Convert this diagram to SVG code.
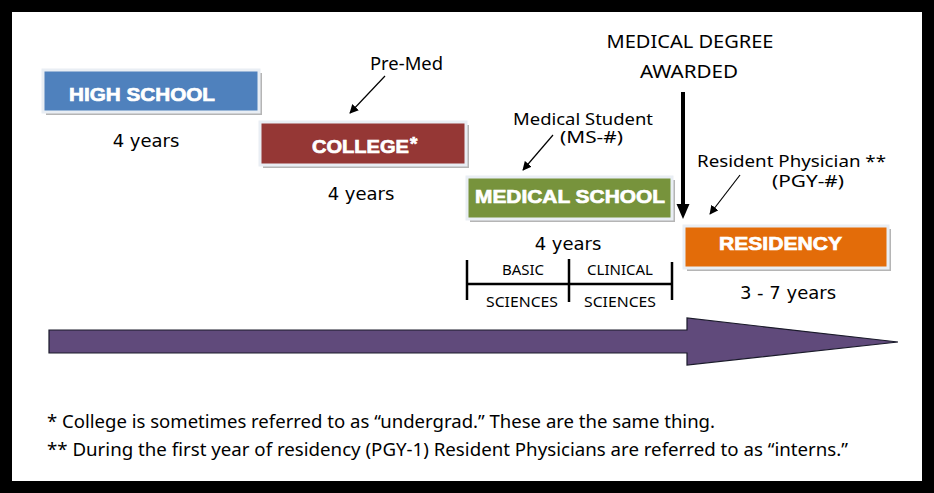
<svg xmlns="http://www.w3.org/2000/svg" width="934" height="493" viewBox="0 0 934 493">
<defs>
<marker id="ah" viewBox="0 0 10 10" refX="9" refY="5" markerWidth="9" markerHeight="9" markerUnits="userSpaceOnUse" orient="auto">
<path d="M0,0 L10,5 L0,10 z" fill="#000"/>
</marker>
<style>
.shadow{fill:#b5b5b5}
.box{stroke:#e9eef4;stroke-width:3}
.bt{font-family:"Liberation Sans",Arial,sans-serif;font-weight:bold;font-size:19px;fill:#fff;stroke:#fff;stroke-width:0.7}
.yr{font-family:"DejaVu Sans",sans-serif;font-size:18px;fill:#000}
.lb{font-family:"Noto Sans","Open Sans",sans-serif;font-size:18px;fill:#000}
.ls{font-family:"Noto Sans","Open Sans",sans-serif;font-size:17px;fill:#000}
.sm{font-family:"Noto Sans","Open Sans",sans-serif;font-size:15px;fill:#000}
.ptr{stroke:#000;stroke-width:1.2;fill:none}
</style>
</defs>
<rect x="0" y="0" width="934" height="493" fill="#000"/>
<rect x="12" y="12" width="910" height="469" fill="#fff"/>

<g id="high-school">
<rect class="shadow" x="46" y="73" width="216" height="42"/>
<rect class="box" x="43" y="70" width="216" height="42" fill="#4F81BD"/>
<text class="bt" x="69" y="101" textLength="146" lengthAdjust="spacingAndGlyphs">HIGH SCHOOL</text>
<text class="yr" x="146" y="147" text-anchor="middle">4 years</text>
</g>

<g id="college">
<rect class="shadow" x="263" y="125" width="206" height="43"/>
<rect class="box" x="260" y="122" width="206" height="43" fill="#953735"/>
<text class="bt" x="312" y="153" textLength="97" lengthAdjust="spacingAndGlyphs">COLLEGE</text>
<text class="bt" x="410" y="150" font-size="14">*</text>
<text class="yr" x="361" y="200" text-anchor="middle">4 years</text>
</g>

<g id="medical-school">
<rect class="shadow" x="470" y="180" width="205" height="42"/>
<rect class="box" x="467" y="177" width="205" height="42" fill="#77933C"/>
<text class="bt" x="475" y="203" textLength="190" lengthAdjust="spacingAndGlyphs">MEDICAL SCHOOL</text>
<text class="yr" x="568" y="250" text-anchor="middle">4 years</text>
<text class="sm" x="523" y="275" text-anchor="middle">BASIC</text>
<text class="sm" x="620" y="275" text-anchor="middle">CLINICAL</text>
<text class="sm" x="522" y="307" text-anchor="middle" textLength="72" lengthAdjust="spacingAndGlyphs">SCIENCES</text>
<text class="sm" x="620" y="307" text-anchor="middle" textLength="72" lengthAdjust="spacingAndGlyphs">SCIENCES</text>
</g>

<g id="residency">
<rect class="shadow" x="687" y="229" width="204" height="42"/>
<rect class="box" x="684" y="226" width="204" height="42" fill="#E36C09"/>
<text class="bt" x="719" y="250" textLength="123" lengthAdjust="spacingAndGlyphs">RESIDENCY</text>
<text class="yr" x="788" y="299" text-anchor="middle">3 - 7 years</text>
</g>

<g id="labels">
<text class="lb" x="370" y="70" textLength="73" lengthAdjust="spacingAndGlyphs">Pre-Med</text>
<text class="lb" x="690" y="48" text-anchor="middle" textLength="167" lengthAdjust="spacingAndGlyphs">MEDICAL DEGREE</text>
<text class="lb" x="689" y="78" text-anchor="middle" textLength="98" lengthAdjust="spacingAndGlyphs">AWARDED</text>
<text class="ls" x="513" y="125" textLength="140" lengthAdjust="spacingAndGlyphs">Medical Student</text>
<text class="ls" x="560" y="143" textLength="63" lengthAdjust="spacingAndGlyphs">(MS-#)</text>
<text class="ls" x="697" y="167" textLength="189" lengthAdjust="spacingAndGlyphs">Resident Physician **</text>
<text class="ls" x="772" y="187" textLength="72" lengthAdjust="spacingAndGlyphs">(PGY-#)</text>
</g>

<g id="connectors">
<line class="ptr" x1="385" y1="76" x2="350" y2="113" marker-end="url(#ah)"/>
<line class="ptr" x1="553" y1="135" x2="523" y2="170" marker-end="url(#ah)"/>
<line class="ptr" x1="740" y1="175" x2="710" y2="214" marker-end="url(#ah)"/>
<line x1="683" y1="92" x2="683" y2="206" stroke="#000" stroke-width="4"/>
<polygon points="676.5,204 689.5,204 683,219" fill="#000"/>
<g stroke="#000" stroke-width="2.5" fill="none">
<line x1="467" y1="284" x2="672" y2="284"/>
<line x1="467" y1="260" x2="467" y2="300"/>
<line x1="569" y1="259" x2="569" y2="302"/>
<line x1="672" y1="262" x2="672" y2="300"/>
</g>
</g>

<g id="timeline">
<polygon points="49,330 687,330 687,318 898,342 687,365 687,353 49,353" fill="#604A7B" stroke="#1a1a2a" stroke-width="1.2"/>
</g>

<g id="footnotes">
<text class="lb" x="47" y="428" textLength="668" lengthAdjust="spacingAndGlyphs">* College is sometimes referred to as “undergrad.” These are the same thing.</text>
<text class="lb" x="47" y="456" textLength="801" lengthAdjust="spacingAndGlyphs">** During the first year of residency (PGY-1) Resident Physicians are referred to as “interns.”</text>
</g>
</svg>
